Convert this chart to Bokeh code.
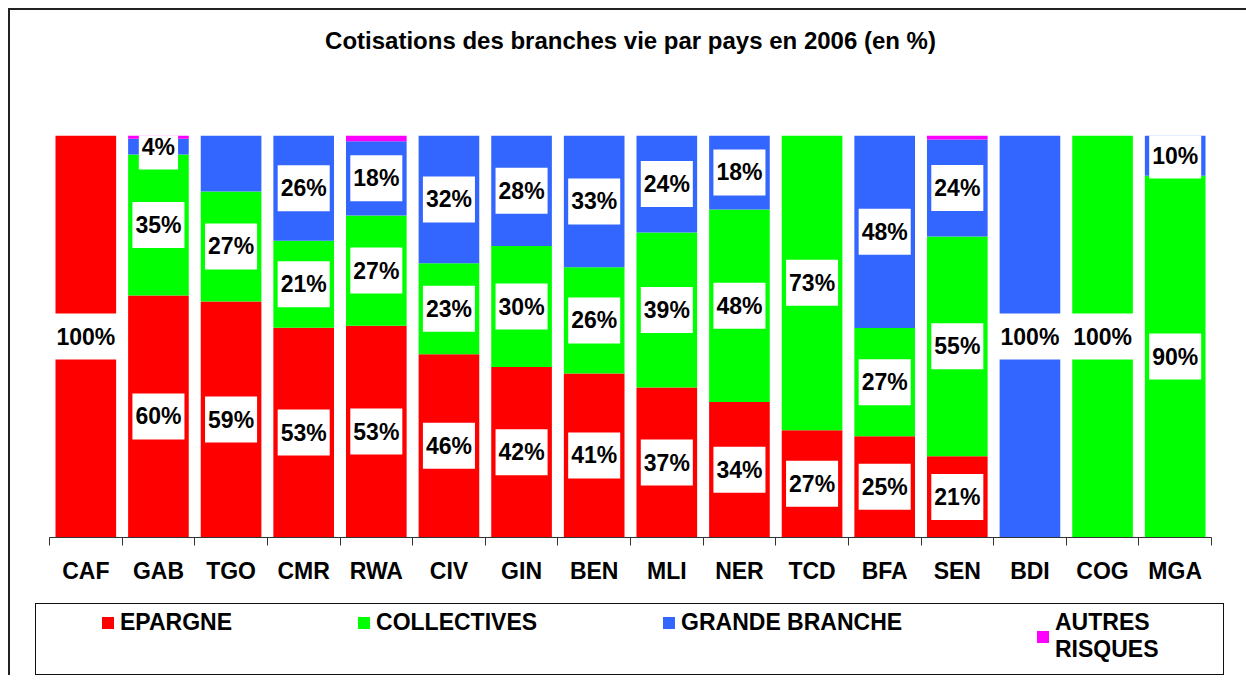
from bokeh.plotting import figure
from bokeh.models import ColumnDataSource, Range1d, FixedTicker, Legend, LegendItem, Title
from bokeh.layouts import column, row
from bokeh.embed import file_html
from bokeh.resources import INLINE
from bokeh.core.properties import value

# ---------------- data ----------------
categories = ["CAF", "GAB", "TGO", "CMR", "RWA", "CIV", "GIN", "BEN",
              "MLI", "NER", "TCD", "BFA", "SEN", "BDI", "COG", "MGA"]
epargne = [100, 60.2, 58.7, 52.2, 52.7, 45.6, 42.4, 40.8, 37.3, 33.7, 26.7, 25.2, 20.2, 0, 0, 0]
collectives = [0, 35.1, 27.4, 21.6, 27.4, 22.6, 30.1, 26.4, 38.6, 47.9, 73.3, 26.9, 54.7, 0, 100, 90.0]
grande_branche = [0, 3.9, 13.9, 26.2, 18.5, 31.8, 27.5, 32.8, 24.1, 18.4, 0, 47.9, 24.1, 100, 0, 10.0]
autres_risques = [0, 0.8, 0, 0, 1.4, 0, 0, 0, 0, 0, 0, 0, 1.0, 0, 0, 0]

epargne_labels = ["100%", "60%", "59%", "53%", "53%", "46%", "42%", "41%",
                  "37%", "34%", "27%", "25%", "21%", "", "", ""]
collectives_labels = ["", "35%", "27%", "21%", "27%", "23%", "30%", "26%",
                      "39%", "48%", "73%", "27%", "55%", "", "100%", "90%"]
grande_labels = ["", "4%", "", "26%", "18%", "32%", "28%", "33%",
                 "24%", "18%", "", "48%", "24%", "100%", "", "10%"]

series_names = ["EPARGNE", "COLLECTIVES", "GRANDE BRANCHE", "AUTRES\nRISQUES"]
series_keys = ["epargne", "collectives", "grande", "autres"]
colors = ["#FF0000", "#00FF00", "#3366FF", "#FF00FF"]
title_text = "Cotisations des branches vie par pays en 2006 (en %)"

FONT = value("Liberation Sans")

# ---------------- main chart ----------------
xs = [i + 0.5 for i in range(len(categories))]
source = ColumnDataSource(dict(x=xs, epargne=epargne, collectives=collectives,
                               grande=grande_branche, autres=autres_risques))

p = figure(width=1236, height=592, output_backend="svg", toolbar_location=None,
           x_range=Range1d(0, len(categories)), y_range=Range1d(0, 100),
           y_axis_location=None,
           min_border_left=39, min_border_right=35, min_border_top=125,
           min_border_bottom=65)
p.outline_line_color = None
p.xgrid.visible = False
p.ygrid.visible = False
p.background_fill_color = "white"
p.border_fill_color = "white"

# spacer between frame and title, then the title itself
p.add_layout(Title(text=" ", standoff=53, text_font_size="24px",
                   text_font="Liberation Sans"), "above")
p.add_layout(Title(text=title_text, align="center", standoff=0,
                   text_font="Liberation Sans", text_font_style="bold",
                   text_font_size="24px", text_color="black"), "above")

p.vbar_stack(series_keys, x="x", width=0.835, color=colors, line_color=None,
             source=source)

# data labels
lx, ly, lt = [], [], []
for vals, labs, below in [
    (epargne, epargne_labels, [0] * len(categories)),
    (collectives, collectives_labels, epargne),
    (grande_branche, grande_labels, [a + b for a, b in zip(epargne, collectives)]),
]:
    for i, (v, t, b) in enumerate(zip(vals, labs, below)):
        if t:
            lx.append(xs[i])
            ly.append(b + v / 2.0)
            lt.append(t)
lsrc = ColumnDataSource(dict(x=lx, y=ly, text=lt))
p.text(x="x", y="y", text="text", source=lsrc, text_align="center",
       text_baseline="middle", text_font=FONT, text_font_style="bold",
       text_font_size="23px", text_color="black",
       background_fill_color="white", padding=dict(x=3, y=10))

ax = p.xaxis[0]
ax.ticker = FixedTicker(ticks=xs, minor_ticks=list(range(len(categories) + 1)))
ax.major_label_overrides = {x: c for x, c in zip(xs, categories)}
ax.major_tick_line_color = None
ax.major_tick_in = 0
ax.major_tick_out = 0
ax.minor_tick_in = 0
ax.minor_tick_out = 8
ax.minor_tick_line_color = "#333333"
ax.axis_line_color = "#333333"
ax.major_label_standoff = 12
ax.major_label_text_font = "Liberation Sans"
ax.major_label_text_font_style = "bold"
ax.major_label_text_font_size = "23px"
ax.major_label_text_color = "black"

# ---------------- legend box ----------------
p2 = figure(width=1189, height=72, output_backend="svg", toolbar_location=None,
            x_range=Range1d(0, 1), y_range=Range1d(0, 1),
            x_axis_location=None, y_axis_location=None,
            min_border_left=39, min_border_right=1,
            min_border_top=1, min_border_bottom=1)
p2.xgrid.visible = False
p2.ygrid.visible = False
p2.outline_line_color = None
p2.background_fill_color = "white"
p2.border_fill_color = "white"
p2.styles = {"border": "1.5px solid #111111"}

items = []
for name, key, c in zip(series_names, series_keys, colors):
    # zero-size placeholder glyphs: only their legend swatches are seen
    r = p2.vbar(x=[-5], top=[0], bottom=[0], width=0.5, color=c, line_color=None)
    items.append(LegendItem(label=name, renderers=[r]))

common = dict(orientation="horizontal", spacing=124, padding=0, margin=0,
              glyph_width=15, glyph_height=15, label_standoff=5,
              border_line_alpha=0, background_fill_alpha=0,
              label_text_font="Liberation Sans", label_text_font_style="bold",
              label_text_font_size="23px", label_text_color="black")
legend_main = Legend(items=items[:3], location=(25, 39), **common)
legend_last = Legend(items=items[3:], location=(960, 12), **common)
p2.add_layout(legend_main)
p2.add_layout(legend_last)

legend_row = row(p2, margin=(1, 0, 0, 25))

layout = column(p, legend_row, margin=(8, 0, 0, 8),
                styles={"border-top": "2px solid #222222",
                        "border-left": "2px solid #222222"})

open("out.html", "w").write(file_html(layout, INLINE))
